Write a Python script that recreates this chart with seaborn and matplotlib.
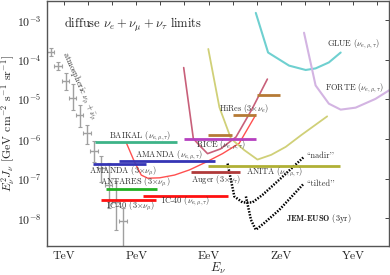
import numpy as np
import matplotlib
matplotlib.use("Agg")
import matplotlib.pyplot as plt
import seaborn as sns
import pandas as pd

# values are log10(E / eV) and log10(E^2 J / GeV cm^-2 s^-1 sr^-1)

# atmospheric nu_mu + anti nu_mu data points
atm_logE = [11.45, 11.76, 12.07, 12.36, 12.66, 12.96, 13.25, 13.56, 13.86, 14.15, 14.45]
atm_logF = [-3.80, -4.17, -4.55, -4.96, -5.39, -5.85, -6.30, -6.73, -7.15, -7.60, -8.08]
atm_err_lo = [0.10, 0.10, 0.22, 0.30, 0.30, 0.28, 0.28, 0.35, 0.60, 0.70, 0.70]
atm_err_hi = [0.10, 0.10, 0.22, 0.35, 0.25, 0.20, 0.25, 0.30, 0.55, 0.55, 0.35]
atm_dlogE = 0.15

# integral limits drawn as horizontal bars: logE_min, logE_max, logF
bar_names = ["BAIKAL", "AMANDA", "AMANDA3", "ANTARES", "IC40_3", "IC40",
             "Auger", "ANITA", "RICE", "HiRes1", "HiRes2", "HiRes3"]
bar_lo = [13.31, 14.29, 13.21, 13.76, 13.56, 15.28, 17.28, 17.99, 17.00, 17.99, 19.00, 20.03]
bar_hi = [16.70, 18.28, 15.39, 15.87, 15.83, 18.79, 19.30, 23.45, 19.96, 18.97, 19.96, 20.97]
bar_val = [-6.08, -6.56, -6.63, -7.26, -7.55, -7.43, -6.84, -6.68, -5.99, -5.89, -5.39, -4.89]
bar_colors = ["#3db388", "#3535b5", "#3535b5", "#22b022", "#ff1010", "#ff1010",
              "#b03a3a", "#b0b035", "#b540c0", "#b57a35", "#b57a35", "#b57a35"]

# differential limits
rice_logE = [16.97, 17.37, 17.62, 17.96, 18.50, 19.14, 19.80, 20.44]
rice_logF = [-4.20, -5.99, -6.16, -6.37, -6.25, -5.95, -5.25, -4.49]

ic_logE = [14.60, 14.93, 15.21, 15.48, 15.97, 16.59, 17.21, 17.91, 18.58, 19.27, 19.96]
ic_logF = [-6.11, -6.58, -6.91, -6.99, -6.98, -6.91, -6.78, -6.58, -6.37, -6.11, -5.39]

anlite_logE = [17.99, 18.45, 18.93, 19.48, 20.03, 20.60, 21.20, 21.85, 22.92]
anlite_logF = [-3.73, -5.20, -5.99, -6.28, -6.52, -6.40, -6.20, -5.90, -5.43]

glue_logE = [19.96, 20.47, 21.34, 22.03, 22.44, 22.99, 23.48]
glue_logF = [-2.82, -3.82, -4.15, -4.26, -4.22, -4.07, -3.82]

forte_logE = [21.96, 22.44, 22.99, 23.48, 24.10, 24.92, 25.47, 25.80]
forte_logF = [-3.32, -4.65, -5.11, -5.26, -5.21, -4.99, -4.78, -4.65]

nadir_logE = [18.79, 19.07, 19.41, 19.82, 20.24, 20.93, 21.96]
nadir_logF = [-6.62, -7.45, -7.60, -7.60, -7.41, -7.03, -6.45]

tilt_logE = [19.55, 19.76, 19.96, 20.31, 20.93, 21.96]
tilt_logF = [-7.45, -8.04, -8.29, -8.12, -7.79, -7.12]

tick_logE = [12, 15, 18, 21, 24]
tick_names = ["TeV", "PeV", "EeV", "ZeV", "YeV"]
ytick_log = [-8, -7, -6, -5, -4, -3]

sns.set_theme(style="white")
plt.rcParams["font.family"] = ["cmr10", "DejaVu Serif"]
plt.rcParams["mathtext.fontset"] = "cm"
plt.rcParams["axes.formatter.use_mathtext"] = True


def pw(v):
    return 10.0 ** np.asarray(v, dtype=float)


fig = plt.figure(figsize=(3.9, 2.75), dpi=100)
ax = fig.add_axes([0.1205, 0.1055, 0.8765, 0.8905])
ax.set_xscale("log")
ax.set_yscale("log")
ax.set_xlim(2e11, 3e25)
ax.set_ylim(2e-9, 3e-3)

# atmospheric data
E = pw(atm_logE)
F = pw(atm_logF)
xerr = [E - pw(np.array(atm_logE) - atm_dlogE), pw(np.array(atm_logE) + atm_dlogE) - E]
yerr = [F - pw(np.array(atm_logF) - np.array(atm_err_lo)), pw(np.array(atm_logF) + np.array(atm_err_hi)) - F]
ax.errorbar(E, F, xerr=xerr, yerr=yerr, fmt="none", ecolor="#a0a0a0", elinewidth=1.0,
            capsize=1.2, capthick=0.8)

# curves
curves = [
    (rice_logE, rice_logF, "#c8607a", 1.2),
    (ic_logE, ic_logF, "#ff5050", 1.0),
    (anlite_logE, anlite_logF, "#d0d078", 1.3),
    (glue_logE, glue_logF, "#6fd0d0", 1.5),
    (forte_logE, forte_logF, "#d3b4e2", 1.5),
]
for lx, ly, c, lw in curves:
    df = pd.DataFrame({"E": pw(lx), "F": pw(ly)})
    sns.lineplot(data=df, x="E", y="F", ax=ax, color=c, lw=lw, sort=False, estimator=None)

for lx, ly in [(nadir_logE, nadir_logF), (tilt_logE, tilt_logF)]:
    df = pd.DataFrame({"E": pw(lx), "F": pw(ly)})
    sns.lineplot(data=df, x="E", y="F", ax=ax, color="black", lw=1.8, sort=False,
                 estimator=None, linestyle=(0, (0.6, 0.6)))

# integral bars
for lo, hi, v, c in zip(bar_lo, bar_hi, bar_val, bar_colors):
    ax.hlines(pw(v), pw(lo), pw(hi), colors=c, lw=2.0, zorder=3)

# annotations
fs = 6
nu3 = r"$(\nu_{e,\mu,\tau})$"
labels = [
    (13.87, -5.93, "BAIKAL " + nu3),
    (14.95, -6.41, "AMANDA " + nu3),
    (13.05, -6.82, r"AMANDA $(3{\times}\nu_\mu)$"),
    (13.49, -7.11, r"ANTARES $(3{\times}\nu_\mu)$"),
    (13.74, -7.70, r"IC-40 $(3{\times}\nu_\mu)$"),
    (16.01, -7.56, "IC-40 " + nu3),
    (17.28, -7.02, r"Auger $(3{\times}\nu_\tau)$"),
    (19.55, -6.85, "ANITA " + nu3),
    (17.47, -6.16, "RICE " + nu3),
    (18.45, -5.22, r"HiRes $(3{\times}\nu_e)$"),
    (22.90, -3.61, "GLUE " + nu3),
    (22.83, -4.71, "FORTE " + nu3),
    (22.07, -6.43, "``nadir''"),
    (22.07, -7.14, "``tilted''"),
]
for lx, ly, t in labels:
    ax.text(pw(lx), pw(ly), t, fontsize=fs, ha="left", va="center", color="#333333")

ax.text(pw(21.2), pw(-8.0), r"$\mathbf{JEM}$-$\mathbf{EUSO}$ (3yr)", fontsize=fs,
        ha="left", va="center", color="#222222")
ax.text(pw(12.0), pw(-3.13), r"diffuse $\nu_e+\nu_\mu+\nu_\tau$ limits", fontsize=9,
        ha="left", va="center", color="#222222")
ax.text(pw(12.65), pw(-4.68), r"atmospheric $\nu_\mu+\bar{\nu}_\mu$", fontsize=6,
        ha="center", va="center", rotation=-66, color="#333333")

# axes styling
ax.set_xticks(pw(np.arange(12, 26)))
ax.set_xticklabels([tick_names[tick_logE.index(k)] if k in tick_logE else "" for k in range(12, 26)])
ax.minorticks_off()
ax.set_yticks(pw(ytick_log))
ax.set_yticklabels([r"$10^{%d}$" % k for k in ytick_log])
ax.tick_params(which="both", direction="in", length=3, width=0.7, top=True, right=True,
               labelsize=8.5, colors="#444444", labelcolor="#222222", pad=4)
for s in ax.spines.values():
    s.set_color("#555555")
    s.set_linewidth(1.0)
ax.set_xlabel(r"$E_\nu$", fontsize=9)
ax.set_ylabel(r"$E_\nu^2 J_\nu$ [GeV cm$^{-2}$ s$^{-1}$ sr$^{-1}$]", fontsize=8.5)
ax.xaxis.set_label_coords(0.5, -0.062)
ax.yaxis.set_label_coords(-0.088, 0.5)

fig.savefig("out.png", dpi=100)
